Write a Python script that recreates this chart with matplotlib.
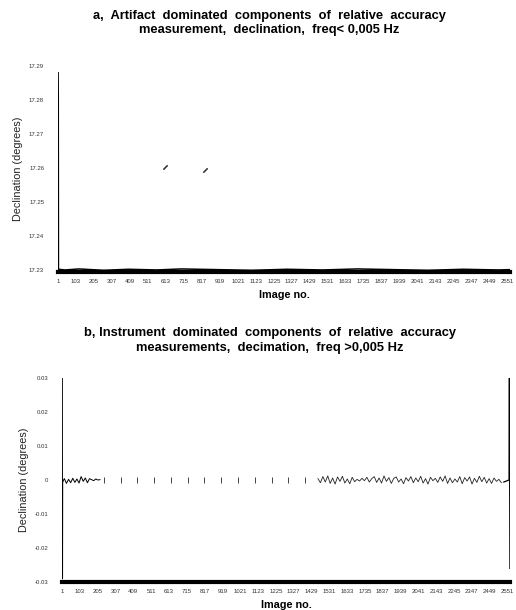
import numpy as np
import matplotlib
matplotlib.use("Agg")
import matplotlib.pyplot as plt

plt.rcParams['font.family'] = ['Liberation Sans', 'DejaVu Sans']

# ---------------- data ----------------
N_IMAGES = 2565
tick_labels = [1 + 102 * k for k in range(26)]

# panel a: artifact dominated components (degrees)
a_idx = [1, 2, 3, 40, 120, 260, 400, 560, 700, 900, 1100, 1300, 1500, 1700, 1900, 2100, 2300, 2500, 2565]
a_val = [17.288, 17.280, 17.2302, 17.2300, 17.2303, 17.2299, 17.2302, 17.2300, 17.2303, 17.2301,
         17.2299, 17.2302, 17.2300, 17.2303, 17.2301, 17.2299, 17.2302, 17.2300, 17.2301]
a_spot_idx = [607, 833]
a_spot_val = [17.2603, 17.2594]
a_yticks = [17.23, 17.24, 17.25, 17.26, 17.27, 17.28, 17.29]

# panel b: instrument dominated components (degrees)
b_start_idx = [1, 2, 3]
b_start_val = [0.030, -0.029, 0.0]
b_left_idx = [4, 14, 26, 38, 50, 62, 74, 86, 98, 110, 122, 134, 146, 158, 170, 182, 194, 206, 218]
b_left_val = [-0.0006, 0.0004, -0.0010, 0.0002, -0.0008, 0.0005, -0.0007, 0.0003, -0.0009, 0.0010,
              -0.0004, 0.0006, -0.0008, 0.0004, 0.0001, -0.0002, 0.0003, 0.0000, 0.0001]
b_mark_idx = [240, 336, 432, 528, 624, 720, 816, 912, 1008, 1104, 1200, 1296, 1392]
b_mark_val = [0.0] * 13
b_noise_start = 1466
b_noise_step = 14
b_noise_val = [0.0004, -0.0008, 0.0010, -0.0006, 0.0012, -0.0010, 0.0006, -0.0012, 0.0009, -0.0004,
               0.0011, -0.0009, 0.0003, -0.0011, 0.0008, -0.0005, 0.0002, -0.0003, 0.0005, -0.0002,
               0.0008, -0.0006, 0.0004, 0.0010, -0.0007, 0.0006, -0.0009, 0.0012, -0.0004, 0.0007,
               -0.0010, 0.0005, 0.0009, -0.0006, 0.0003, -0.0011, 0.0007, -0.0003, 0.0010, -0.0008,
               0.0006, -0.0005, 0.0011, -0.0009, 0.0004, -0.0012, 0.0008, -0.0002, 0.0005, -0.0007,
               0.0009, -0.0004, 0.0012, -0.0010, 0.0006, -0.0008, 0.0003, -0.0006, 0.0010, -0.0011,
               0.0007, -0.0003, 0.0009, -0.0012, 0.0005, -0.0007, 0.0011, -0.0005, 0.0008, -0.0009,
               0.0004, -0.0010, 0.0006, -0.0004, 0.0002, -0.0008]
b_end_idx = [2530, 2560, 2562, 2565]
b_end_val = [-0.0006, 0.0, 0.0325, -0.026]
b_yticks = [-0.03, -0.02, -0.01, 0.0, 0.01, 0.02, 0.03]
b_yticklabels = ['-0.03', '-0.02', '-0.01', '0', '0.01', '0.02', '0.03']

# ---------------- figure ----------------
W, H = 516, 610
fig = plt.figure(figsize=(W / 100, H / 100), dpi=100)


def px_axes(l, t, r, b):
    return fig.add_axes([l / W, 1 - b / H, (r - l) / W, (b - t) / H])


def style(ax):
    for s in ('top', 'right', 'left'):
        ax.spines[s].set_visible(False)
    ax.spines['bottom'].set_linewidth(3.0)
    ax.set_xlim(0.5, N_IMAGES + 0.5)
    ax.set_xticks(tick_labels)
    ax.set_xticklabels([str(t) for t in tick_labels], fontsize=4.3, color='#333333')
    ax.tick_params(axis='x', length=0, pad=5)
    ax.tick_params(axis='y', length=0, labelsize=4.3, labelcolor='#333333', pad=10)
    ax.set_xlabel('Image no.', fontsize=7.8, fontweight='bold', labelpad=4)
    ax.set_ylabel('Declination (degrees)', fontsize=7.8, color='#222222', labelpad=4)


# panel a
axa = px_axes(58, 66, 510, 272)
style(axa)
axa.plot(a_idx, a_val, color='black', lw=1.1)
axa.plot(a_spot_idx, a_spot_val, linestyle='none', marker=(2, 2, -45), markersize=4,
         color='#333333', markeredgewidth=0.8)
axa.set_ylim(17.2294, 17.29)
axa.set_yticks(a_yticks)
axa.set_yticklabels(['%.2f' % v for v in a_yticks])

# panel b
axb = px_axes(62, 378, 510, 582)
style(axb)
axb.plot(b_start_idx, b_start_val, color='black', lw=1.1)
axb.plot(b_left_idx, b_left_val, color='black', lw=0.7)
b_noise_idx = np.arange(len(b_noise_val)) * b_noise_step + b_noise_start
axb.plot(b_noise_idx, b_noise_val, color='#222222', lw=0.6)
axb.plot(b_end_idx, b_end_val, color='black', lw=0.9)
axb.plot(b_mark_idx, b_mark_val, linestyle='none', marker='|', markersize=4,
         color='#444444', markeredgewidth=0.7)
axb.set_ylim(-0.03, 0.03)
axb.set_yticks(b_yticks)
axb.set_yticklabels(b_yticklabels)

# titles
cx = 269 / W
fig.text(cx, 1 - 16 / H, 'a,  Artifact  dominated  components  of  relative  accuracy',
         ha='center', va='center', fontsize=9.3, fontweight='bold')
fig.text(cx, 1 - 30 / H, 'measurement,  declination,  freq< 0,005 Hz',
         ha='center', va='center', fontsize=9.3, fontweight='bold')
fig.text(cx + 1 / W, 1 - 333 / H, 'b, Instrument  dominated  components  of  relative  accuracy',
         ha='center', va='center', fontsize=9.3, fontweight='bold')
fig.text(cx + 1 / W, 1 - 348 / H, 'measurements,  decimation,  freq >0,005 Hz',
         ha='center', va='center', fontsize=9.3, fontweight='bold')

fig.savefig('out.png', dpi=100)
